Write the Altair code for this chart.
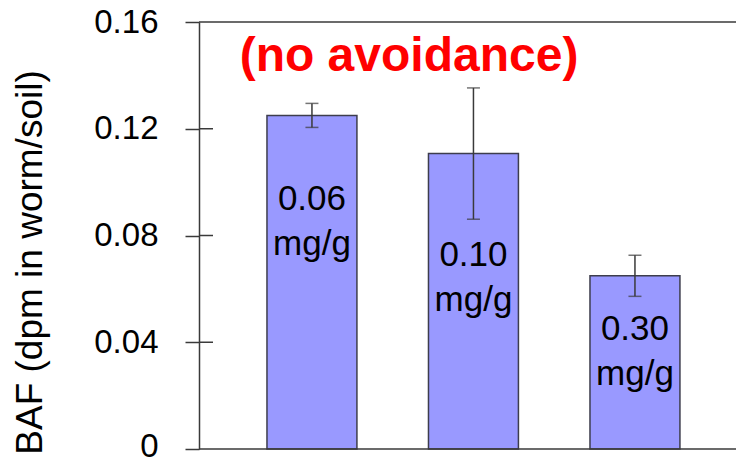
import altair as alt
import pandas as pd

# Bioaccumulation factor per soil concentration
doses = ["0.06", "0.10", "0.30"]
unit = "mg/g"
baf = [0.125, 0.1107, 0.0649]
baf_err = [0.0045, 0.0246, 0.0077]
label_at = [0.0897, 0.0684, 0.0407]   # baseline of the in-bar dose labels

y_ticks = [0, 0.04, 0.08, 0.12, 0.16]
inner_ticks = [0.04, 0.08, 0.12]
frame_lines = [0, 0.16]
subtitle = "(no avoidance)"

W, H = 537, 427
FONT = "Liberation Sans"
AXIS_GREY = "#3a3a3a"

df = pd.DataFrame({
    "dose": doses,
    "baf": baf,
    "lo": [b - e for b, e in zip(baf, baf_err)],
    "hi": [b + e for b, e in zip(baf, baf_err)],
    "label_y": label_at,
    "label": [[d, unit] for d in doses],
})

x_scale = alt.Scale(paddingInner=0.443, paddingOuter=0.384, align=0.548)
y_scale = alt.Scale(domain=[0, 0.16], nice=False)
x_enc = alt.X("dose:N", scale=x_scale, axis=None, sort=doses)

# one axis definition shared by every layer so the merged axis keeps it
y_axis = alt.Axis(
    values=y_ticks,
    labelExpr="datum.value == 0 ? '0' : format(datum.value, '.2f')",
    grid=False,
    domainColor=AXIS_GREY,
    domainWidth=1.5,
    tickColor=AXIS_GREY,
    tickWidth=1.5,
    tickSize=14,
    labelFont=FONT,
    labelFontSize=33,
    labelColor="black",
    labelPadding=27,
    labelBound=False,
    labelOffset={"condition": {"test": "datum.value == 0", "value": -3}, "value": 0},
    title="BAF (dpm in worm/soil)",
    titleFont=FONT,
    titleFontSize=37,
    titleFontWeight="normal",
    titleColor="black",
    titleAngle=270,
    titleAlign="center",
    titleBaseline="middle",
    titleX=-169,
    titleY=240,
)


def yq(field):
    return alt.Y(field, type="quantitative", scale=y_scale, axis=y_axis)


bars = alt.Chart(df).mark_bar(
    color="#9999FF", stroke="#3d3d4d", strokeWidth=1.5
).encode(x=x_enc, y=yq("baf"))

err_rule = alt.Chart(df).mark_rule(color=AXIS_GREY, strokeWidth=1.5).encode(
    x=x_enc, y=yq("lo"), y2="hi:Q"
)

err_caps_lo = alt.Chart(df).mark_tick(
    color=AXIS_GREY, size=13, thickness=1.5, orient="horizontal"
).encode(x=x_enc, y=yq("lo"))

err_caps_hi = alt.Chart(df).mark_tick(
    color=AXIS_GREY, size=13, thickness=1.5, orient="horizontal"
).encode(x=x_enc, y=yq("hi"))

labels = alt.Chart(df).mark_text(
    font=FONT, fontSize=35, color="black", align="center",
    baseline="alphabetic", lineHeight=45
).encode(x=x_enc, y=yq("label_y"), text="label")

# short tick marks on the inner side of the value axis
inner = alt.Chart(pd.DataFrame({"v": inner_ticks})).mark_rule(
    color=AXIS_GREY, strokeWidth=1.5
).encode(x=alt.value(0), x2=alt.value(14), y=yq("v"))

# horizontal frame lines at the bottom and top of the value range
frame = alt.Chart(pd.DataFrame({"v": frame_lines})).mark_rule(
    color=AXIS_GREY, strokeWidth=1.5
).encode(x=alt.value(0), x2=alt.value(W), y=yq("v"))

note = alt.Chart(pd.DataFrame({"t": [subtitle]})).mark_text(
    font=FONT, fontSize=48, fontWeight="bold", color="#FF0000",
    align="center", baseline="alphabetic"
).encode(x=alt.value(210), y=alt.value(49), text="t:N")

chart = alt.layer(
    bars, err_rule, err_caps_lo, err_caps_hi, labels, inner, frame, note
).properties(
    width=W,
    height=H,
    padding={"left": 199, "top": 22, "right": 0, "bottom": 11},
    autosize=alt.AutoSizeParams(type="none"),
    background="white",
).configure_view(stroke=None)

chart.save("out.html", embed_options={"renderer": "svg", "actions": False})
